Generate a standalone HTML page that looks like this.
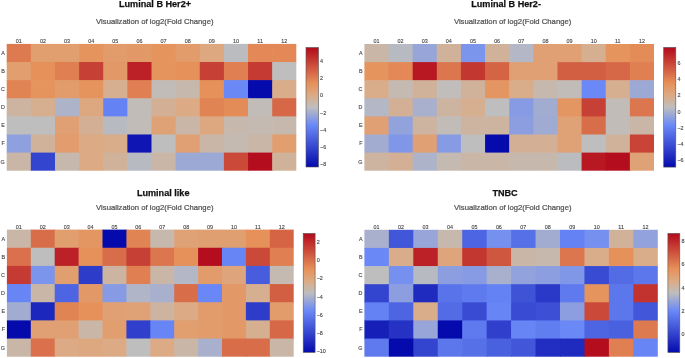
<!DOCTYPE html><html><head><meta charset="utf-8"><style>
html,body{margin:0;padding:0;background:#fff;width:685px;height:358px;overflow:hidden}
svg{display:block;filter:blur(0.3px)}
text{font-family:"Liberation Sans",sans-serif;opacity:0.999}
.t{font-weight:bold;fill:#111;font-size:9.1px;stroke:#111;stroke-width:0.25px}
.s{fill:#505050;font-size:7.7px;stroke:#505050;stroke-width:0.22px}
.l{fill:#444;font-size:5.4px;stroke:#444;stroke-width:0.12px}
</style></head><body>
<svg width="685" height="358" viewBox="0 0 685 358">
<g>

<defs><linearGradient id="g0" x1="0" y1="1" x2="0" y2="0"><stop offset="0" stop-color="#050aac"/><stop offset="0.35" stop-color="#6a89f7"/><stop offset="0.5" stop-color="#bebebe"/><stop offset="0.6" stop-color="#dcaa84"/><stop offset="0.7" stop-color="#e6915a"/><stop offset="1" stop-color="#b20a1c"/></linearGradient></defs>
<rect x="6.70" y="43.90" width="24.83" height="18.81" fill="#dd7a50"/>
<rect x="30.83" y="43.90" width="24.83" height="18.81" fill="#e19e6f"/>
<rect x="54.97" y="43.90" width="24.83" height="18.81" fill="#e19e6f"/>
<rect x="79.10" y="43.90" width="24.83" height="18.81" fill="#e5945e"/>
<rect x="103.23" y="43.90" width="24.83" height="18.81" fill="#e29b6b"/>
<rect x="127.37" y="43.90" width="24.83" height="18.81" fill="#e39867"/>
<rect x="151.50" y="43.90" width="24.83" height="18.81" fill="#e5945e"/>
<rect x="175.63" y="43.90" width="24.83" height="18.81" fill="#e29b6b"/>
<rect x="199.77" y="43.90" width="24.83" height="18.81" fill="#dda880"/>
<rect x="223.90" y="43.90" width="24.83" height="18.81" fill="#bbbcc0"/>
<rect x="248.03" y="43.90" width="24.83" height="18.81" fill="#e38856"/>
<rect x="272.17" y="43.90" width="24.13" height="18.81" fill="#e38856"/>
<rect x="6.70" y="62.01" width="24.83" height="18.81" fill="#e19e6f"/>
<rect x="30.83" y="62.01" width="24.83" height="18.81" fill="#e6915a"/>
<rect x="54.97" y="62.01" width="24.83" height="18.81" fill="#df7f52"/>
<rect x="79.10" y="62.01" width="24.83" height="18.81" fill="#c74035"/>
<rect x="103.23" y="62.01" width="24.83" height="18.81" fill="#e39867"/>
<rect x="127.37" y="62.01" width="24.83" height="18.81" fill="#bb2126"/>
<rect x="151.50" y="62.01" width="24.83" height="18.81" fill="#e5945e"/>
<rect x="175.63" y="62.01" width="24.83" height="18.81" fill="#e6915a"/>
<rect x="199.77" y="62.01" width="24.83" height="18.81" fill="#c74035"/>
<rect x="223.90" y="62.01" width="24.83" height="18.81" fill="#df7f52"/>
<rect x="248.03" y="62.01" width="24.83" height="18.81" fill="#c53b33"/>
<rect x="272.17" y="62.01" width="24.13" height="18.81" fill="#bebebe"/>
<rect x="6.70" y="80.13" width="24.83" height="18.81" fill="#e18454"/>
<rect x="30.83" y="80.13" width="24.83" height="18.81" fill="#e5945e"/>
<rect x="54.97" y="80.13" width="24.83" height="18.81" fill="#e29b6b"/>
<rect x="79.10" y="80.13" width="24.83" height="18.81" fill="#e5945e"/>
<rect x="103.23" y="80.13" width="24.83" height="18.81" fill="#d6ae90"/>
<rect x="127.37" y="80.13" width="24.83" height="18.81" fill="#df7f52"/>
<rect x="151.50" y="80.13" width="24.83" height="18.81" fill="#c1bcb8"/>
<rect x="175.63" y="80.13" width="24.83" height="18.81" fill="#c7b8ad"/>
<rect x="199.77" y="80.13" width="24.83" height="18.81" fill="#e6915a"/>
<rect x="223.90" y="80.13" width="24.83" height="18.81" fill="#6a89f7"/>
<rect x="248.03" y="80.13" width="24.83" height="18.81" fill="#050aac"/>
<rect x="272.17" y="80.13" width="24.13" height="18.81" fill="#d9ac8a"/>
<rect x="6.70" y="98.24" width="24.83" height="18.81" fill="#cdb4a1"/>
<rect x="30.83" y="98.24" width="24.83" height="18.81" fill="#d6ae90"/>
<rect x="54.97" y="98.24" width="24.83" height="18.81" fill="#adb3c9"/>
<rect x="79.10" y="98.24" width="24.83" height="18.81" fill="#dda880"/>
<rect x="103.23" y="98.24" width="24.83" height="18.81" fill="#6482f3"/>
<rect x="127.37" y="98.24" width="24.83" height="18.81" fill="#c1bcb8"/>
<rect x="151.50" y="98.24" width="24.83" height="18.81" fill="#d3b095"/>
<rect x="175.63" y="98.24" width="24.83" height="18.81" fill="#dcaa84"/>
<rect x="199.77" y="98.24" width="24.83" height="18.81" fill="#e18454"/>
<rect x="223.90" y="98.24" width="24.83" height="18.81" fill="#e48c58"/>
<rect x="248.03" y="98.24" width="24.83" height="18.81" fill="#c1bcb8"/>
<rect x="272.17" y="98.24" width="24.13" height="18.81" fill="#d66847"/>
<rect x="6.70" y="116.36" width="24.83" height="18.81" fill="#bebebe"/>
<rect x="30.83" y="116.36" width="24.83" height="18.81" fill="#bebebe"/>
<rect x="54.97" y="116.36" width="24.83" height="18.81" fill="#e0a073"/>
<rect x="79.10" y="116.36" width="24.83" height="18.81" fill="#d3b095"/>
<rect x="103.23" y="116.36" width="24.83" height="18.81" fill="#b8bac2"/>
<rect x="127.37" y="116.36" width="24.83" height="18.81" fill="#c1bcb8"/>
<rect x="151.50" y="116.36" width="24.83" height="18.81" fill="#dfa277"/>
<rect x="175.63" y="116.36" width="24.83" height="18.81" fill="#cab6a7"/>
<rect x="199.77" y="116.36" width="24.83" height="18.81" fill="#dda880"/>
<rect x="223.90" y="116.36" width="24.83" height="18.81" fill="#c7b8ad"/>
<rect x="248.03" y="116.36" width="24.83" height="18.81" fill="#c4bab2"/>
<rect x="272.17" y="116.36" width="24.13" height="18.81" fill="#c7b8ad"/>
<rect x="6.70" y="134.47" width="24.83" height="18.81" fill="#8ea0de"/>
<rect x="30.83" y="134.47" width="24.83" height="18.81" fill="#d0b29b"/>
<rect x="54.97" y="134.47" width="24.83" height="18.81" fill="#e29c6d"/>
<rect x="79.10" y="134.47" width="24.83" height="18.81" fill="#dcaa84"/>
<rect x="103.23" y="134.47" width="24.83" height="18.81" fill="#d9ac8a"/>
<rect x="127.37" y="134.47" width="24.83" height="18.81" fill="#0e15b2"/>
<rect x="151.50" y="134.47" width="24.83" height="18.81" fill="#bebebe"/>
<rect x="175.63" y="134.47" width="24.83" height="18.81" fill="#e0a073"/>
<rect x="199.77" y="134.47" width="24.83" height="18.81" fill="#cab6a7"/>
<rect x="223.90" y="134.47" width="24.83" height="18.81" fill="#c4bab2"/>
<rect x="248.03" y="134.47" width="24.83" height="18.81" fill="#cab6a7"/>
<rect x="272.17" y="134.47" width="24.13" height="18.81" fill="#e19e6f"/>
<rect x="6.70" y="152.59" width="24.83" height="18.11" fill="#cab6a7"/>
<rect x="30.83" y="152.59" width="24.83" height="18.11" fill="#3344ce"/>
<rect x="54.97" y="152.59" width="24.83" height="18.11" fill="#c7b8ad"/>
<rect x="79.10" y="152.59" width="24.83" height="18.11" fill="#dcaa84"/>
<rect x="103.23" y="152.59" width="24.83" height="18.11" fill="#d0b29b"/>
<rect x="127.37" y="152.59" width="24.83" height="18.11" fill="#b8bac2"/>
<rect x="151.50" y="152.59" width="24.83" height="18.11" fill="#cab6a7"/>
<rect x="175.63" y="152.59" width="24.83" height="18.11" fill="#9ca9d5"/>
<rect x="199.77" y="152.59" width="24.83" height="18.11" fill="#9ca9d5"/>
<rect x="223.90" y="152.59" width="24.83" height="18.11" fill="#ca4939"/>
<rect x="248.03" y="152.59" width="24.83" height="18.11" fill="#b40e1e"/>
<rect x="272.17" y="152.59" width="24.13" height="18.11" fill="#d0b29b"/>
<text class="l" x="18.77" y="42.90" text-anchor="middle">01</text>
<text class="l" x="42.90" y="42.90" text-anchor="middle">02</text>
<text class="l" x="67.03" y="42.90" text-anchor="middle">03</text>
<text class="l" x="91.17" y="42.90" text-anchor="middle">04</text>
<text class="l" x="115.30" y="42.90" text-anchor="middle">05</text>
<text class="l" x="139.43" y="42.90" text-anchor="middle">06</text>
<text class="l" x="163.57" y="42.90" text-anchor="middle">07</text>
<text class="l" x="187.70" y="42.90" text-anchor="middle">08</text>
<text class="l" x="211.83" y="42.90" text-anchor="middle">09</text>
<text class="l" x="235.97" y="42.90" text-anchor="middle">10</text>
<text class="l" x="260.10" y="42.90" text-anchor="middle">11</text>
<text class="l" x="284.23" y="42.90" text-anchor="middle">12</text>
<text class="l" x="4.80" y="54.86" text-anchor="end">A</text>
<text class="l" x="4.80" y="72.97" text-anchor="end">B</text>
<text class="l" x="4.80" y="91.09" text-anchor="end">C</text>
<text class="l" x="4.80" y="109.20" text-anchor="end">D</text>
<text class="l" x="4.80" y="127.31" text-anchor="end">E</text>
<text class="l" x="4.80" y="145.43" text-anchor="end">F</text>
<text class="l" x="4.80" y="163.54" text-anchor="end">G</text>
<rect x="306.00" y="47.50" width="12.50" height="119.50" fill="url(#g0)" stroke="#555" stroke-width="0.6"/>
<text class="l" x="320.10" y="62.55">4</text>
<text class="l" x="320.10" y="79.87">2</text>
<text class="l" x="320.10" y="97.19">0</text>
<text class="l" x="320.10" y="114.51">−2</text>
<text class="l" x="320.10" y="131.82">−4</text>
<text class="l" x="320.10" y="149.14">−6</text>
<text class="l" x="320.10" y="166.46">−8</text>
<text class="t" x="119.00" y="7.20">Luminal B Her2+</text>
<text class="s" x="96.10" y="24.10">Visualization of log2(Fold Change)</text>
<defs><linearGradient id="g1" x1="0" y1="1" x2="0" y2="0"><stop offset="0" stop-color="#050aac"/><stop offset="0.35" stop-color="#6a89f7"/><stop offset="0.5" stop-color="#bebebe"/><stop offset="0.6" stop-color="#dcaa84"/><stop offset="0.7" stop-color="#e6915a"/><stop offset="1" stop-color="#b20a1c"/></linearGradient></defs>
<rect x="364.40" y="44.00" width="24.83" height="18.80" fill="#cab6a7"/>
<rect x="388.53" y="44.00" width="24.83" height="18.80" fill="#b8bac2"/>
<rect x="412.67" y="44.00" width="24.83" height="18.80" fill="#97a5d9"/>
<rect x="436.80" y="44.00" width="24.83" height="18.80" fill="#d0b29b"/>
<rect x="460.93" y="44.00" width="24.83" height="18.80" fill="#7b94ec"/>
<rect x="485.07" y="44.00" width="24.83" height="18.80" fill="#d0b29b"/>
<rect x="509.20" y="44.00" width="24.83" height="18.80" fill="#b3b7c6"/>
<rect x="533.33" y="44.00" width="24.83" height="18.80" fill="#e0a073"/>
<rect x="557.47" y="44.00" width="24.83" height="18.80" fill="#e0a073"/>
<rect x="581.60" y="44.00" width="24.83" height="18.80" fill="#d6ae90"/>
<rect x="605.73" y="44.00" width="24.83" height="18.80" fill="#e5945e"/>
<rect x="629.87" y="44.00" width="24.13" height="18.80" fill="#e48c58"/>
<rect x="364.40" y="62.10" width="24.83" height="18.80" fill="#e5945e"/>
<rect x="388.53" y="62.10" width="24.83" height="18.80" fill="#e38856"/>
<rect x="412.67" y="62.10" width="24.83" height="18.80" fill="#b71822"/>
<rect x="436.80" y="62.10" width="24.83" height="18.80" fill="#dc764e"/>
<rect x="460.93" y="62.10" width="24.83" height="18.80" fill="#c33731"/>
<rect x="485.07" y="62.10" width="24.83" height="18.80" fill="#d56445"/>
<rect x="509.20" y="62.10" width="24.83" height="18.80" fill="#e0a073"/>
<rect x="533.33" y="62.10" width="24.83" height="18.80" fill="#e0a073"/>
<rect x="557.47" y="62.10" width="24.83" height="18.80" fill="#d35f43"/>
<rect x="581.60" y="62.10" width="24.83" height="18.80" fill="#d35f43"/>
<rect x="605.73" y="62.10" width="24.83" height="18.80" fill="#d66847"/>
<rect x="629.87" y="62.10" width="24.13" height="18.80" fill="#df7f52"/>
<rect x="364.40" y="80.20" width="24.83" height="18.80" fill="#d9ac8a"/>
<rect x="388.53" y="80.20" width="24.83" height="18.80" fill="#c4bab2"/>
<rect x="412.67" y="80.20" width="24.83" height="18.80" fill="#d0b29b"/>
<rect x="436.80" y="80.20" width="24.83" height="18.80" fill="#c0bdbb"/>
<rect x="460.93" y="80.20" width="24.83" height="18.80" fill="#d0b29b"/>
<rect x="485.07" y="80.20" width="24.83" height="18.80" fill="#e49662"/>
<rect x="509.20" y="80.20" width="24.83" height="18.80" fill="#d9ac8a"/>
<rect x="533.33" y="80.20" width="24.83" height="18.80" fill="#c7b8ad"/>
<rect x="557.47" y="80.20" width="24.83" height="18.80" fill="#c1bcb8"/>
<rect x="581.60" y="80.20" width="24.83" height="18.80" fill="#6a89f7"/>
<rect x="605.73" y="80.20" width="24.83" height="18.80" fill="#d6ae90"/>
<rect x="629.87" y="80.20" width="24.13" height="18.80" fill="#9ca9d5"/>
<rect x="364.40" y="98.30" width="24.83" height="18.80" fill="#b3b7c6"/>
<rect x="388.53" y="98.30" width="24.83" height="18.80" fill="#d3b095"/>
<rect x="412.67" y="98.30" width="24.83" height="18.80" fill="#a8b0cd"/>
<rect x="436.80" y="98.30" width="24.83" height="18.80" fill="#cdb4a1"/>
<rect x="460.93" y="98.30" width="24.83" height="18.80" fill="#d6ae90"/>
<rect x="485.07" y="98.30" width="24.83" height="18.80" fill="#bebebe"/>
<rect x="509.20" y="98.30" width="24.83" height="18.80" fill="#869be4"/>
<rect x="533.33" y="98.30" width="24.83" height="18.80" fill="#a2acd1"/>
<rect x="557.47" y="98.30" width="24.83" height="18.80" fill="#e49662"/>
<rect x="581.60" y="98.30" width="24.83" height="18.80" fill="#c74035"/>
<rect x="605.73" y="98.30" width="24.83" height="18.80" fill="#c1bcb8"/>
<rect x="629.87" y="98.30" width="24.13" height="18.80" fill="#dc764e"/>
<rect x="364.40" y="116.40" width="24.83" height="18.80" fill="#e0a073"/>
<rect x="388.53" y="116.40" width="24.83" height="18.80" fill="#91a2dc"/>
<rect x="412.67" y="116.40" width="24.83" height="18.80" fill="#cdb4a1"/>
<rect x="436.80" y="116.40" width="24.83" height="18.80" fill="#c1bcb8"/>
<rect x="460.93" y="116.40" width="24.83" height="18.80" fill="#cdb4a1"/>
<rect x="485.07" y="116.40" width="24.83" height="18.80" fill="#cdb4a1"/>
<rect x="509.20" y="116.40" width="24.83" height="18.80" fill="#8c9ee0"/>
<rect x="533.33" y="116.40" width="24.83" height="18.80" fill="#9fabd3"/>
<rect x="557.47" y="116.40" width="24.83" height="18.80" fill="#dfa277"/>
<rect x="581.60" y="116.40" width="24.83" height="18.80" fill="#d86d49"/>
<rect x="605.73" y="116.40" width="24.83" height="18.80" fill="#c1bcb8"/>
<rect x="629.87" y="116.40" width="24.13" height="18.80" fill="#cab6a7"/>
<rect x="364.40" y="134.50" width="24.83" height="18.80" fill="#a2acd1"/>
<rect x="388.53" y="134.50" width="24.83" height="18.80" fill="#8097e8"/>
<rect x="412.67" y="134.50" width="24.83" height="18.80" fill="#e0a073"/>
<rect x="436.80" y="134.50" width="24.83" height="18.80" fill="#869be4"/>
<rect x="460.93" y="134.50" width="24.83" height="18.80" fill="#bebebe"/>
<rect x="485.07" y="134.50" width="24.83" height="18.80" fill="#050aac"/>
<rect x="509.20" y="134.50" width="24.83" height="18.80" fill="#d3b095"/>
<rect x="533.33" y="134.50" width="24.83" height="18.80" fill="#d3b095"/>
<rect x="557.47" y="134.50" width="24.83" height="18.80" fill="#dfa277"/>
<rect x="581.60" y="134.50" width="24.83" height="18.80" fill="#bebebe"/>
<rect x="605.73" y="134.50" width="24.83" height="18.80" fill="#d0b29b"/>
<rect x="629.87" y="134.50" width="24.13" height="18.80" fill="#c94437"/>
<rect x="364.40" y="152.60" width="24.83" height="18.10" fill="#cdb4a1"/>
<rect x="388.53" y="152.60" width="24.83" height="18.10" fill="#d3b095"/>
<rect x="412.67" y="152.60" width="24.83" height="18.10" fill="#adb3c9"/>
<rect x="436.80" y="152.60" width="24.83" height="18.10" fill="#c4bab2"/>
<rect x="460.93" y="152.60" width="24.83" height="18.10" fill="#cab6a7"/>
<rect x="485.07" y="152.60" width="24.83" height="18.10" fill="#cab6a7"/>
<rect x="509.20" y="152.60" width="24.83" height="18.10" fill="#c7b8ad"/>
<rect x="533.33" y="152.60" width="24.83" height="18.10" fill="#c7b8ad"/>
<rect x="557.47" y="152.60" width="24.83" height="18.10" fill="#bbbcc0"/>
<rect x="581.60" y="152.60" width="24.83" height="18.10" fill="#b71822"/>
<rect x="605.73" y="152.60" width="24.83" height="18.10" fill="#b40e1e"/>
<rect x="629.87" y="152.60" width="24.13" height="18.10" fill="#dfa277"/>
<text class="l" x="376.47" y="43.00" text-anchor="middle">01</text>
<text class="l" x="400.60" y="43.00" text-anchor="middle">02</text>
<text class="l" x="424.73" y="43.00" text-anchor="middle">03</text>
<text class="l" x="448.87" y="43.00" text-anchor="middle">04</text>
<text class="l" x="473.00" y="43.00" text-anchor="middle">05</text>
<text class="l" x="497.13" y="43.00" text-anchor="middle">06</text>
<text class="l" x="521.27" y="43.00" text-anchor="middle">07</text>
<text class="l" x="545.40" y="43.00" text-anchor="middle">08</text>
<text class="l" x="569.53" y="43.00" text-anchor="middle">09</text>
<text class="l" x="593.67" y="43.00" text-anchor="middle">10</text>
<text class="l" x="617.80" y="43.00" text-anchor="middle">11</text>
<text class="l" x="641.93" y="43.00" text-anchor="middle">12</text>
<text class="l" x="362.50" y="54.95" text-anchor="end">A</text>
<text class="l" x="362.50" y="73.05" text-anchor="end">B</text>
<text class="l" x="362.50" y="91.15" text-anchor="end">C</text>
<text class="l" x="362.50" y="109.25" text-anchor="end">D</text>
<text class="l" x="362.50" y="127.35" text-anchor="end">E</text>
<text class="l" x="362.50" y="145.45" text-anchor="end">F</text>
<text class="l" x="362.50" y="163.55" text-anchor="end">G</text>
<rect x="663.70" y="47.40" width="12.10" height="119.70" fill="url(#g1)" stroke="#555" stroke-width="0.6"/>
<text class="l" x="677.40" y="64.67">6</text>
<text class="l" x="677.40" y="80.96">4</text>
<text class="l" x="677.40" y="97.24">2</text>
<text class="l" x="677.40" y="113.53">0</text>
<text class="l" x="677.40" y="129.81">−2</text>
<text class="l" x="677.40" y="146.10">−4</text>
<text class="l" x="677.40" y="162.39">−6</text>
<text class="t" x="471.20" y="7.10">Luminal B Her2-</text>
<text class="s" x="453.90" y="24.10">Visualization of log2(Fold Change)</text>
<defs><linearGradient id="g2" x1="0" y1="1" x2="0" y2="0"><stop offset="0" stop-color="#050aac"/><stop offset="0.35" stop-color="#6a89f7"/><stop offset="0.5" stop-color="#bebebe"/><stop offset="0.6" stop-color="#dcaa84"/><stop offset="0.7" stop-color="#e6915a"/><stop offset="1" stop-color="#b20a1c"/></linearGradient></defs>
<rect x="6.90" y="229.60" width="24.60" height="18.86" fill="#cab6a7"/>
<rect x="30.80" y="229.60" width="24.60" height="18.86" fill="#d86d49"/>
<rect x="54.70" y="229.60" width="24.60" height="18.86" fill="#e19e6f"/>
<rect x="78.60" y="229.60" width="24.60" height="18.86" fill="#e49662"/>
<rect x="102.50" y="229.60" width="24.60" height="18.86" fill="#050aac"/>
<rect x="126.40" y="229.60" width="24.60" height="18.86" fill="#e18454"/>
<rect x="150.30" y="229.60" width="24.60" height="18.86" fill="#c7b8ad"/>
<rect x="174.20" y="229.60" width="24.60" height="18.86" fill="#dfa277"/>
<rect x="198.10" y="229.60" width="24.60" height="18.86" fill="#e09f71"/>
<rect x="222.00" y="229.60" width="24.60" height="18.86" fill="#e09f71"/>
<rect x="245.90" y="229.60" width="24.60" height="18.86" fill="#e6915a"/>
<rect x="269.80" y="229.60" width="23.90" height="18.86" fill="#d56445"/>
<rect x="6.90" y="247.76" width="24.60" height="18.86" fill="#da714c"/>
<rect x="30.80" y="247.76" width="24.60" height="18.86" fill="#bebebe"/>
<rect x="54.70" y="247.76" width="24.60" height="18.86" fill="#bb2126"/>
<rect x="78.60" y="247.76" width="24.60" height="18.86" fill="#e6915a"/>
<rect x="102.50" y="247.76" width="24.60" height="18.86" fill="#d86d49"/>
<rect x="126.40" y="247.76" width="24.60" height="18.86" fill="#c74035"/>
<rect x="150.30" y="247.76" width="24.60" height="18.86" fill="#dc764e"/>
<rect x="174.20" y="247.76" width="24.60" height="18.86" fill="#e6915a"/>
<rect x="198.10" y="247.76" width="24.60" height="18.86" fill="#b40e1e"/>
<rect x="222.00" y="247.76" width="24.60" height="18.86" fill="#6785f5"/>
<rect x="245.90" y="247.76" width="24.60" height="18.86" fill="#ca4939"/>
<rect x="269.80" y="247.76" width="23.90" height="18.86" fill="#df7f52"/>
<rect x="6.90" y="265.91" width="24.60" height="18.86" fill="#c53b33"/>
<rect x="30.80" y="265.91" width="24.60" height="18.86" fill="#7b94ec"/>
<rect x="54.70" y="265.91" width="24.60" height="18.86" fill="#e19e6f"/>
<rect x="78.60" y="265.91" width="24.60" height="18.86" fill="#2d3dca"/>
<rect x="102.50" y="265.91" width="24.60" height="18.86" fill="#cdb4a1"/>
<rect x="126.40" y="265.91" width="24.60" height="18.86" fill="#df7f52"/>
<rect x="150.30" y="265.91" width="24.60" height="18.86" fill="#cab6a7"/>
<rect x="174.20" y="265.91" width="24.60" height="18.86" fill="#b3b7c6"/>
<rect x="198.10" y="265.91" width="24.60" height="18.86" fill="#e29b6b"/>
<rect x="222.00" y="265.91" width="24.60" height="18.86" fill="#dea57c"/>
<rect x="245.90" y="265.91" width="24.60" height="18.86" fill="#475ddd"/>
<rect x="269.80" y="265.91" width="23.90" height="18.86" fill="#c4bab2"/>
<rect x="6.90" y="284.07" width="24.60" height="18.86" fill="#6785f5"/>
<rect x="30.80" y="284.07" width="24.60" height="18.86" fill="#cab6a7"/>
<rect x="54.70" y="284.07" width="24.60" height="18.86" fill="#4d65e2"/>
<rect x="78.60" y="284.07" width="24.60" height="18.86" fill="#e39867"/>
<rect x="102.50" y="284.07" width="24.60" height="18.86" fill="#869be4"/>
<rect x="126.40" y="284.07" width="24.60" height="18.86" fill="#b0b5c8"/>
<rect x="150.30" y="284.07" width="24.60" height="18.86" fill="#a8b0cd"/>
<rect x="174.20" y="284.07" width="24.60" height="18.86" fill="#d86d49"/>
<rect x="198.10" y="284.07" width="24.60" height="18.86" fill="#6987f6"/>
<rect x="222.00" y="284.07" width="24.60" height="18.86" fill="#e39867"/>
<rect x="245.90" y="284.07" width="24.60" height="18.86" fill="#d6ae90"/>
<rect x="269.80" y="284.07" width="23.90" height="18.86" fill="#d35f43"/>
<rect x="6.90" y="302.23" width="24.60" height="18.86" fill="#a2acd1"/>
<rect x="30.80" y="302.23" width="24.60" height="18.86" fill="#1c27bd"/>
<rect x="54.70" y="302.23" width="24.60" height="18.86" fill="#e18454"/>
<rect x="78.60" y="302.23" width="24.60" height="18.86" fill="#e6915a"/>
<rect x="102.50" y="302.23" width="24.60" height="18.86" fill="#e0a073"/>
<rect x="126.40" y="302.23" width="24.60" height="18.86" fill="#dfa277"/>
<rect x="150.30" y="302.23" width="24.60" height="18.86" fill="#cdb4a1"/>
<rect x="174.20" y="302.23" width="24.60" height="18.86" fill="#dcaa84"/>
<rect x="198.10" y="302.23" width="24.60" height="18.86" fill="#e29b6b"/>
<rect x="222.00" y="302.23" width="24.60" height="18.86" fill="#e39867"/>
<rect x="245.90" y="302.23" width="24.60" height="18.86" fill="#2d3dca"/>
<rect x="269.80" y="302.23" width="23.90" height="18.86" fill="#e29b6b"/>
<rect x="6.90" y="320.39" width="24.60" height="18.86" fill="#050aac"/>
<rect x="30.80" y="320.39" width="24.60" height="18.86" fill="#e0a073"/>
<rect x="54.70" y="320.39" width="24.60" height="18.86" fill="#e0a073"/>
<rect x="78.60" y="320.39" width="24.60" height="18.86" fill="#cab6a7"/>
<rect x="102.50" y="320.39" width="24.60" height="18.86" fill="#e19e6f"/>
<rect x="126.40" y="320.39" width="24.60" height="18.86" fill="#3040cc"/>
<rect x="150.30" y="320.39" width="24.60" height="18.86" fill="#6785f5"/>
<rect x="174.20" y="320.39" width="24.60" height="18.86" fill="#e19e6f"/>
<rect x="198.10" y="320.39" width="24.60" height="18.86" fill="#e29b6b"/>
<rect x="222.00" y="320.39" width="24.60" height="18.86" fill="#e39867"/>
<rect x="245.90" y="320.39" width="24.60" height="18.86" fill="#d6ae90"/>
<rect x="269.80" y="320.39" width="23.90" height="18.86" fill="#d66847"/>
<rect x="6.90" y="338.54" width="24.60" height="18.16" fill="#cab6a7"/>
<rect x="30.80" y="338.54" width="24.60" height="18.16" fill="#da714c"/>
<rect x="54.70" y="338.54" width="24.60" height="18.16" fill="#dcaa84"/>
<rect x="78.60" y="338.54" width="24.60" height="18.16" fill="#dda880"/>
<rect x="102.50" y="338.54" width="24.60" height="18.16" fill="#dcaa84"/>
<rect x="126.40" y="338.54" width="24.60" height="18.16" fill="#bebebe"/>
<rect x="150.30" y="338.54" width="24.60" height="18.16" fill="#dcaa84"/>
<rect x="174.20" y="338.54" width="24.60" height="18.16" fill="#cab6a7"/>
<rect x="198.10" y="338.54" width="24.60" height="18.16" fill="#a8b0cd"/>
<rect x="222.00" y="338.54" width="24.60" height="18.16" fill="#d86d49"/>
<rect x="245.90" y="338.54" width="24.60" height="18.16" fill="#d86d49"/>
<rect x="269.80" y="338.54" width="23.90" height="18.16" fill="#cab6a7"/>
<text class="l" x="18.85" y="228.60" text-anchor="middle">01</text>
<text class="l" x="42.75" y="228.60" text-anchor="middle">02</text>
<text class="l" x="66.65" y="228.60" text-anchor="middle">03</text>
<text class="l" x="90.55" y="228.60" text-anchor="middle">04</text>
<text class="l" x="114.45" y="228.60" text-anchor="middle">05</text>
<text class="l" x="138.35" y="228.60" text-anchor="middle">06</text>
<text class="l" x="162.25" y="228.60" text-anchor="middle">07</text>
<text class="l" x="186.15" y="228.60" text-anchor="middle">08</text>
<text class="l" x="210.05" y="228.60" text-anchor="middle">09</text>
<text class="l" x="233.95" y="228.60" text-anchor="middle">10</text>
<text class="l" x="257.85" y="228.60" text-anchor="middle">11</text>
<text class="l" x="281.75" y="228.60" text-anchor="middle">12</text>
<text class="l" x="5.00" y="240.58" text-anchor="end">A</text>
<text class="l" x="5.00" y="258.74" text-anchor="end">B</text>
<text class="l" x="5.00" y="276.89" text-anchor="end">C</text>
<text class="l" x="5.00" y="295.05" text-anchor="end">D</text>
<text class="l" x="5.00" y="313.21" text-anchor="end">E</text>
<text class="l" x="5.00" y="331.36" text-anchor="end">F</text>
<text class="l" x="5.00" y="349.52" text-anchor="end">G</text>
<rect x="303.20" y="233.40" width="11.90" height="119.00" fill="url(#g2)" stroke="#555" stroke-width="0.6"/>
<text class="l" x="316.70" y="243.78">2</text>
<text class="l" x="316.70" y="262.03">0</text>
<text class="l" x="316.70" y="280.28">−2</text>
<text class="l" x="316.70" y="298.53">−4</text>
<text class="l" x="316.70" y="316.78">−6</text>
<text class="l" x="316.70" y="335.04">−8</text>
<text class="l" x="316.70" y="353.29">−10</text>
<text class="t" x="136.90" y="195.70">Luminal like</text>
<text class="s" x="96.10" y="210.00">Visualization of log2(Fold Change)</text>
<defs><linearGradient id="g3" x1="0" y1="1" x2="0" y2="0"><stop offset="0" stop-color="#050aac"/><stop offset="0.35" stop-color="#6a89f7"/><stop offset="0.5" stop-color="#bebebe"/><stop offset="0.6" stop-color="#dcaa84"/><stop offset="0.7" stop-color="#e6915a"/><stop offset="1" stop-color="#b20a1c"/></linearGradient></defs>
<rect x="364.40" y="229.80" width="25.15" height="18.83" fill="#a8b0cd"/>
<rect x="388.85" y="229.80" width="25.15" height="18.83" fill="#4256d9"/>
<rect x="413.30" y="229.80" width="25.15" height="18.83" fill="#97a5d9"/>
<rect x="437.75" y="229.80" width="25.15" height="18.83" fill="#c7b8ad"/>
<rect x="462.20" y="229.80" width="25.15" height="18.83" fill="#4d65e2"/>
<rect x="486.65" y="229.80" width="25.15" height="18.83" fill="#7590ef"/>
<rect x="511.10" y="229.80" width="25.15" height="18.83" fill="#5670e8"/>
<rect x="535.55" y="229.80" width="25.15" height="18.83" fill="#a2acd1"/>
<rect x="560.00" y="229.80" width="25.15" height="18.83" fill="#6482f3"/>
<rect x="584.45" y="229.80" width="25.15" height="18.83" fill="#7590ef"/>
<rect x="608.90" y="229.80" width="25.15" height="18.83" fill="#d0b29b"/>
<rect x="633.35" y="229.80" width="24.45" height="18.83" fill="#91a2dc"/>
<rect x="364.40" y="247.93" width="25.15" height="18.83" fill="#6a89f7"/>
<rect x="388.85" y="247.93" width="25.15" height="18.83" fill="#d9ac8a"/>
<rect x="413.30" y="247.93" width="25.15" height="18.83" fill="#bb2126"/>
<rect x="437.75" y="247.93" width="25.15" height="18.83" fill="#dea57c"/>
<rect x="462.20" y="247.93" width="25.15" height="18.83" fill="#c33731"/>
<rect x="486.65" y="247.93" width="25.15" height="18.83" fill="#cf563f"/>
<rect x="511.10" y="247.93" width="25.15" height="18.83" fill="#cab6a7"/>
<rect x="535.55" y="247.93" width="25.15" height="18.83" fill="#c7b8ad"/>
<rect x="560.00" y="247.93" width="25.15" height="18.83" fill="#dc764e"/>
<rect x="584.45" y="247.93" width="25.15" height="18.83" fill="#d9ac8a"/>
<rect x="608.90" y="247.93" width="25.15" height="18.83" fill="#e6915a"/>
<rect x="633.35" y="247.93" width="24.45" height="18.83" fill="#d9ac8a"/>
<rect x="364.40" y="266.06" width="25.15" height="18.83" fill="#bebebe"/>
<rect x="388.85" y="266.06" width="25.15" height="18.83" fill="#7590ef"/>
<rect x="413.30" y="266.06" width="25.15" height="18.83" fill="#b8bac2"/>
<rect x="437.75" y="266.06" width="25.15" height="18.83" fill="#8c9ee0"/>
<rect x="462.20" y="266.06" width="25.15" height="18.83" fill="#869be4"/>
<rect x="486.65" y="266.06" width="25.15" height="18.83" fill="#a8b0cd"/>
<rect x="511.10" y="266.06" width="25.15" height="18.83" fill="#91a2dc"/>
<rect x="535.55" y="266.06" width="25.15" height="18.83" fill="#8c9ee0"/>
<rect x="560.00" y="266.06" width="25.15" height="18.83" fill="#8097e8"/>
<rect x="584.45" y="266.06" width="25.15" height="18.83" fill="#394bd3"/>
<rect x="608.90" y="266.06" width="25.15" height="18.83" fill="#536ce6"/>
<rect x="633.35" y="266.06" width="24.45" height="18.83" fill="#5c77ec"/>
<rect x="364.40" y="284.19" width="25.15" height="18.83" fill="#3344ce"/>
<rect x="388.85" y="284.19" width="25.15" height="18.83" fill="#8c9ee0"/>
<rect x="413.30" y="284.19" width="25.15" height="18.83" fill="#1f2bbf"/>
<rect x="437.75" y="284.19" width="25.15" height="18.83" fill="#5973ea"/>
<rect x="462.20" y="284.19" width="25.15" height="18.83" fill="#5e7aee"/>
<rect x="486.65" y="284.19" width="25.15" height="18.83" fill="#6482f3"/>
<rect x="511.10" y="284.19" width="25.15" height="18.83" fill="#3f53d7"/>
<rect x="535.55" y="284.19" width="25.15" height="18.83" fill="#2b39c8"/>
<rect x="560.00" y="284.19" width="25.15" height="18.83" fill="#5e7aee"/>
<rect x="584.45" y="284.19" width="25.15" height="18.83" fill="#e5945e"/>
<rect x="608.90" y="284.19" width="25.15" height="18.83" fill="#5c77ec"/>
<rect x="633.35" y="284.19" width="24.45" height="18.83" fill="#c2322f"/>
<rect x="364.40" y="302.31" width="25.15" height="18.83" fill="#6482f3"/>
<rect x="388.85" y="302.31" width="25.15" height="18.83" fill="#4d65e2"/>
<rect x="413.30" y="302.31" width="25.15" height="18.83" fill="#d9ac8a"/>
<rect x="437.75" y="302.31" width="25.15" height="18.83" fill="#536ce6"/>
<rect x="462.20" y="302.31" width="25.15" height="18.83" fill="#394bd3"/>
<rect x="486.65" y="302.31" width="25.15" height="18.83" fill="#6785f5"/>
<rect x="511.10" y="302.31" width="25.15" height="18.83" fill="#394bd3"/>
<rect x="535.55" y="302.31" width="25.15" height="18.83" fill="#3c4fd5"/>
<rect x="560.00" y="302.31" width="25.15" height="18.83" fill="#8c9ee0"/>
<rect x="584.45" y="302.31" width="25.15" height="18.83" fill="#ca4939"/>
<rect x="608.90" y="302.31" width="25.15" height="18.83" fill="#5c77ec"/>
<rect x="633.35" y="302.31" width="24.45" height="18.83" fill="#4256d9"/>
<rect x="364.40" y="320.44" width="25.15" height="18.83" fill="#1620b9"/>
<rect x="388.85" y="320.44" width="25.15" height="18.83" fill="#2532c4"/>
<rect x="413.30" y="320.44" width="25.15" height="18.83" fill="#97a5d9"/>
<rect x="437.75" y="320.44" width="25.15" height="18.83" fill="#050aac"/>
<rect x="462.20" y="320.44" width="25.15" height="18.83" fill="#5e7aee"/>
<rect x="486.65" y="320.44" width="25.15" height="18.83" fill="#3040cc"/>
<rect x="511.10" y="320.44" width="25.15" height="18.83" fill="#6785f5"/>
<rect x="535.55" y="320.44" width="25.15" height="18.83" fill="#617ef1"/>
<rect x="560.00" y="320.44" width="25.15" height="18.83" fill="#6a89f7"/>
<rect x="584.45" y="320.44" width="25.15" height="18.83" fill="#4d65e2"/>
<rect x="608.90" y="320.44" width="25.15" height="18.83" fill="#4a61df"/>
<rect x="633.35" y="320.44" width="24.45" height="18.83" fill="#dd7a50"/>
<rect x="364.40" y="338.57" width="25.15" height="18.13" fill="#5e7aee"/>
<rect x="388.85" y="338.57" width="25.15" height="18.13" fill="#050aac"/>
<rect x="413.30" y="338.57" width="25.15" height="18.13" fill="#3344ce"/>
<rect x="437.75" y="338.57" width="25.15" height="18.13" fill="#5c77ec"/>
<rect x="462.20" y="338.57" width="25.15" height="18.13" fill="#5670e8"/>
<rect x="486.65" y="338.57" width="25.15" height="18.13" fill="#4a61df"/>
<rect x="511.10" y="338.57" width="25.15" height="18.13" fill="#4256d9"/>
<rect x="535.55" y="338.57" width="25.15" height="18.13" fill="#222ec1"/>
<rect x="560.00" y="338.57" width="25.15" height="18.13" fill="#1f2bbf"/>
<rect x="584.45" y="338.57" width="25.15" height="18.13" fill="#b40e1e"/>
<rect x="608.90" y="338.57" width="25.15" height="18.13" fill="#df7f52"/>
<rect x="633.35" y="338.57" width="24.45" height="18.13" fill="#6785f5"/>
<text class="l" x="376.62" y="228.80" text-anchor="middle">01</text>
<text class="l" x="401.07" y="228.80" text-anchor="middle">02</text>
<text class="l" x="425.52" y="228.80" text-anchor="middle">03</text>
<text class="l" x="449.97" y="228.80" text-anchor="middle">04</text>
<text class="l" x="474.42" y="228.80" text-anchor="middle">05</text>
<text class="l" x="498.88" y="228.80" text-anchor="middle">06</text>
<text class="l" x="523.32" y="228.80" text-anchor="middle">07</text>
<text class="l" x="547.77" y="228.80" text-anchor="middle">08</text>
<text class="l" x="572.22" y="228.80" text-anchor="middle">09</text>
<text class="l" x="596.67" y="228.80" text-anchor="middle">10</text>
<text class="l" x="621.12" y="228.80" text-anchor="middle">11</text>
<text class="l" x="645.58" y="228.80" text-anchor="middle">12</text>
<text class="l" x="362.50" y="240.76" text-anchor="end">A</text>
<text class="l" x="362.50" y="258.89" text-anchor="end">B</text>
<text class="l" x="362.50" y="277.02" text-anchor="end">C</text>
<text class="l" x="362.50" y="295.15" text-anchor="end">D</text>
<text class="l" x="362.50" y="313.28" text-anchor="end">E</text>
<text class="l" x="362.50" y="331.41" text-anchor="end">F</text>
<text class="l" x="362.50" y="349.54" text-anchor="end">G</text>
<rect x="667.90" y="233.40" width="11.90" height="119.10" fill="url(#g3)" stroke="#555" stroke-width="0.6"/>
<text class="l" x="681.40" y="242.99">8</text>
<text class="l" x="681.40" y="266.25">6</text>
<text class="l" x="681.40" y="289.52">4</text>
<text class="l" x="681.40" y="312.78">2</text>
<text class="l" x="681.40" y="336.04">0</text>
<text class="t" x="492.40" y="195.70">TNBC</text>
<text class="s" x="454.10" y="210.00">Visualization of log2(Fold Change)</text>
</g></svg></body></html>
